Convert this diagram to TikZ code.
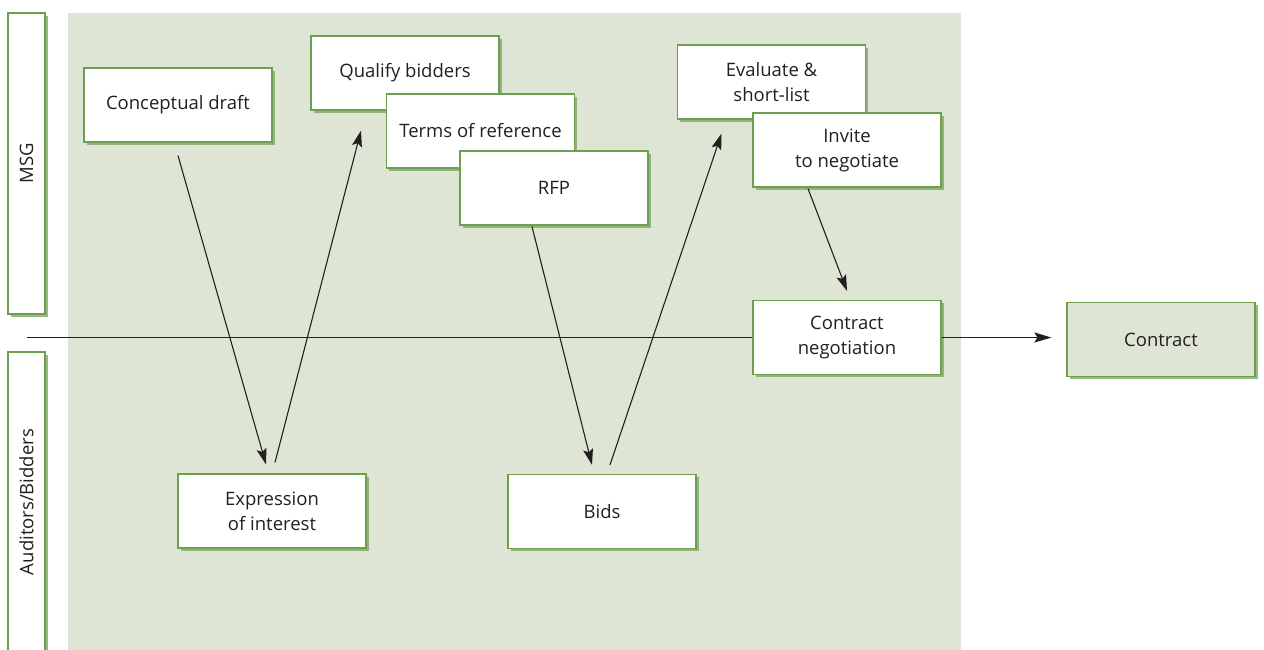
\documentclass[tikz,border=0pt]{standalone}
\usepackage{fontspec}
\setmainfont{Open Sans}
\usetikzlibrary{arrows.meta,shadows,calc}
\definecolor{bggreen}{HTML}{DFE5D5}
\definecolor{boxgreen}{HTML}{6E9F4E}
\definecolor{shgreen}{HTML}{7FA866}
\definecolor{txt}{HTML}{231F20}
\tikzset{
  procbox/.style={draw=boxgreen, line width=1.2pt, fill=white, minimum width=188pt, minimum height=74pt,
    inner sep=0pt, align=center, text=txt, font=\fontsize{18.5}{25}\selectfont,
    drop shadow={shadow xshift=2.5pt, shadow yshift=-2.5pt, fill=shgreen, opacity=0.8}},
  lanebox/.style={draw=boxgreen, line width=1.2pt, fill=white,
    drop shadow={shadow xshift=2.5pt, shadow yshift=-2.5pt, fill=shgreen, opacity=0.8}},
  lanelabel/.style={rotate=90, text=txt, font=\fontsize{18.5}{25}\selectfont, inner sep=0pt},
  arr/.style={draw=txt, line width=1.1pt, -{Stealth[length=16pt,width=10pt,inset=3pt]}},
  plain/.style={draw=txt, line width=1.4pt},
}
\begin{document}
\begin{tikzpicture}[x=1pt,y=-1pt]
\useasboundingbox (0,0) rectangle (1264,649);
\clip (0,0) rectangle (1264,649);
\fill[white] (0,0) rectangle (1264,649);
% background region
\fill[bggreen] (68,13) rectangle (961,660);
% lanes
\path[lanebox] (8,13) rectangle (45,314);
\path[lanebox] (8,352) rectangle (45,670);
\node[lanelabel] (msg) at (26.5,163.5) {MSG};
\node[lanelabel] (aud) at (26.5,502) {Auditors/Bidders};
% main line
\coordinate (start) at (27,337.5);
% boxes
\node[procbox] (cd) at (178,105) {Conceptual draft};
\node[procbox] (qb) at (405,73) {Qualify bidders};
\node[procbox] (tor) at (480.5,131) {Terms of reference};
\node[procbox] (rfp) at (554,188) {RFP};
\node[procbox] (ev) at (771.5,82) {Evaluate \&\\short-list};
\node[procbox] (inv) at (847,150) {Invite\\to negotiate};
\node[procbox] (eoi) at (272,511) {Expression\\of interest};
\node[procbox] (bids) at (602,511.5) {Bids};
\node[procbox] (cn) at (847,337.5) {Contract\\negotiation};
\node[procbox, fill=bggreen] (con) at (1161,339.5) {Contract};
% horizontal line
\draw[plain] (start) -- (start -| cn.west);
\draw[plain, -{Stealth[length=17pt,width=10pt,inset=3pt]}] (cn.east) -- ([xshift=-15pt]cn.east -| con.west);
% arrows
\draw[arr] ([yshift=-13pt]cd.south) -- ([xshift=-6pt,yshift=9pt]eoi.north);
\draw[arr] ([xshift=3pt,yshift=11pt]eoi.north) -- ([xshift=-44pt,yshift=-20pt]qb.south);
\draw[arr] ([xshift=-22pt,yshift=-1pt]rfp.south) -- ([xshift=-10pt,yshift=9pt]bids.north);
\draw[arr] ([xshift=8pt,yshift=9pt]bids.north) -- ([xshift=-50pt,yshift=-14pt]ev.south);
\draw[arr] ([xshift=-39pt,yshift=-1pt]inv.south) -- ([yshift=9pt]cn.north);
\end{tikzpicture}
\end{document}
